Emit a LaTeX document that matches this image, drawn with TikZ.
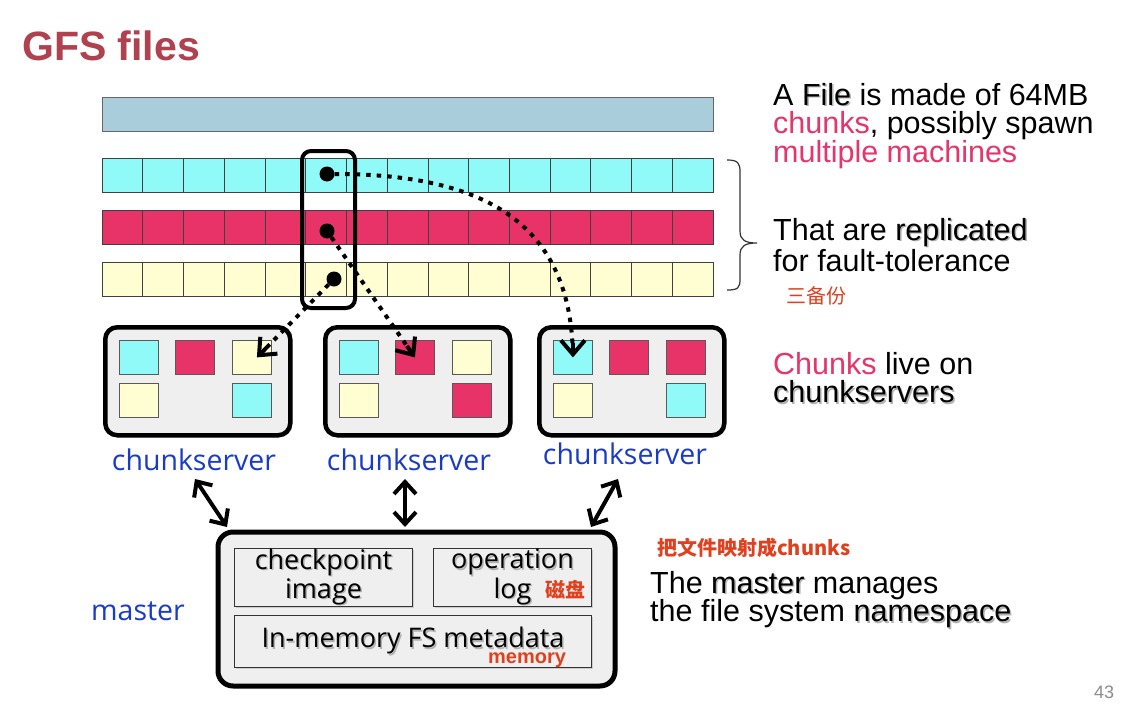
\documentclass[tikz,border=0pt]{standalone}
\usepackage{fontspec}
\setmainfont{Liberation Sans}
\newfontfamily\labelfont{Open Sans}
\newfontfamily\cjk{Noto Sans CJK SC}
\usetikzlibrary{arrows.meta,shadows,calc}

\definecolor{titlered}{RGB}{176,66,80}
\definecolor{chunkcyan}{RGB}{144,250,248}
\definecolor{chunkred}{RGB}{232,51,104}
\definecolor{chunkyellow}{RGB}{255,253,210}
\definecolor{filebar}{RGB}{169,205,219}
\definecolor{boxgray}{RGB}{239,239,239}
\definecolor{srvblue}{RGB}{26,59,200}
\definecolor{notered}{RGB}{224,64,30}
\definecolor{pinktext}{RGB}{229,53,107}

\newcommand{\shadowtxt}[1]{\makebox[0pt][l]{\hspace{1.5pt}\raisebox{-1.5pt}{\textcolor{black!30}{#1}}}#1}

\begin{document}
\begin{tikzpicture}[x=1pt,y=-1pt,
	cell/.style={draw=black!75, line width=0.7pt, minimum width=40.73pt, minimum height=34pt, inner sep=0pt, outer sep=0pt, anchor=north west},
	sq/.style={draw=black!65, line width=0.8pt, minimum width=39pt, minimum height=34pt, inner sep=0pt, anchor=north west},
	server/.style={draw=black, line width=4.5pt, rounded corners=12pt, fill=boxgray, minimum width=185pt, minimum height=108pt, inner sep=0pt, anchor=north west, drop shadow={shadow xshift=2pt, shadow yshift=-2pt, opacity=0.35}},
	inbox/.style={draw=black!80, line width=1pt, fill=boxgray, inner sep=0pt, anchor=north west, align=center, font=\labelfont\fontsize{27}{24}\selectfont, drop shadow={shadow xshift=1pt, shadow yshift=-1pt, opacity=0.3}},
	srvlabel/.style={font=\labelfont\fontsize{28.5}{30}\selectfont, text=srvblue},
	note/.style={font=\fontsize{30.5}{28.5}\selectfont, align=left, inner sep=0pt, anchor=north west},
	cjknote/.style={font=\cjk\bfseries\fontsize{20}{22}\selectfont, text=notered, inner sep=0pt},
	dot/.style={circle, fill, inner sep=0pt, minimum size=15pt},
	dotline/.style={line width=4pt, dash pattern=on 4.5pt off 6pt},
	tipline/.style={line width=4pt, solid, -{Straight Barb[length=14pt,width=24pt]}},
	dblarrow/.style={line width=4pt, {Straight Barb[length=12pt,width=22pt]}-{Straight Barb[length=12pt,width=22pt]}}]

	\fill[white] (0,0) rectangle (1148,704);

	\node[font=\fontsize{41}{48}\selectfont\bfseries, text=titlered, anchor=base west, inner sep=0pt] (title) at (22,60) {GFS files};

	\node[draw=black!60, line width=0.8pt, fill=filebar, minimum width=611pt, minimum height=34pt, inner sep=0pt, anchor=north west] (file) at (102,97) {};
	\foreach \i in {1,...,15} {
		\node[cell, fill=chunkcyan] (c\i) at ({102+(\i-1)*40.733},158) {};
		\node[cell, fill=chunkred] (r\i) at ({102+(\i-1)*40.733},210) {};
		\node[cell, fill=chunkyellow] (y\i) at ({102+(\i-1)*40.733},262) {};
	}
	\node[draw, line width=4pt, rounded corners=9pt, minimum width=53pt, minimum height=157pt, inner sep=0pt, anchor=north west] (col) at (300,149) {};
	\node[dot] (d1) at (327,174) {};
	\node[dot] (d2) at (327,231) {};
	\node[dot] (d3) at (334,279) {};

	\draw[line width=1.2pt, black!80] (727,160) .. controls (738,160) and (740,163) .. (740,172) -- (740,231) .. controls (740,240) and (745,243) .. (757,243) .. controls (745,243) and (740,246) .. (740,255) -- (740,279) .. controls (740,288) and (738,290) .. (727,290);

	\node[server] (srv1) at (103,325) {};
	\node[server] (srv2) at (323,325) {};
	\node[server] (srv3) at (537,325) {};
	\foreach \x/\y/\col/\nm in {119/340/chunkcyan/s1c, 175/340/chunkred/s1r, 232/340/chunkyellow/s1y, 119/383/chunkyellow/s1y2, 232/383/chunkcyan/s1c2,
		339/340/chunkcyan/s2c, 395/340/chunkred/s2r, 452/340/chunkyellow/s2y, 339/383/chunkyellow/s2y2, 452/383/chunkred/s2r2,
		553/340/chunkcyan/s3c, 609/340/chunkred/s3r, 666/340/chunkred/s3r2, 553/383/chunkyellow/s3y, 666/383/chunkcyan/s3c2} {
		\node[sq, fill=\col] (\nm) at (\x,\y) {};
	}
	\node[srvlabel] (l1) at (194,460) {chunkserver};
	\node[srvlabel] (l2) at (409,460) {chunkserver};
	\node[srvlabel] (l3) at (625,454) {chunkserver};

	\coordinate (t1) at ([xshift=5pt]s1y.center);
	\draw[dotline] (d1) .. controls (480,174) and (572,220) .. (s3c.center);
	\draw[tipline] ([yshift=14pt]s3c.center) -- (s3c.center);
	\draw[dotline] (d2) -- (s2r.center);
	\draw[tipline] ($(s2r.center)!14pt!(d2)$) -- (s2r.center);
	\draw[dotline] (d3) -- (t1);
	\draw[tipline] ($(t1)!14pt!(d3)$) -- (t1);

	\node[server, line width=5pt, rounded corners=15pt, minimum width=397pt, minimum height=154pt] (master) at (215.5,529.5) {};
	\node[inbox, minimum width=178pt, minimum height=58pt] (ckpt) at (234,548) {\shadowtxt{checkpoint}\\\shadowtxt{image}};
	\node[inbox, minimum width=158pt, minimum height=58pt] (oplog) at (433,548) {\shadowtxt{operation}\\\shadowtxt{log}};
	\node[inbox, minimum width=357pt, minimum height=52pt] (meta) at (234,615) {\shadowtxt{In-memory FS metadata}};
	\node[cjknote] (disk) at (565,590) {磁盘};
	\node[font=\bfseries\fontsize{20}{22}\selectfont, text=notered, inner sep=0pt] (mem) at (527,660) {memory};
	\node[srvlabel] (mlabel) at (138,611) {master};

	\coordinate (m1) at (227,527);
	\coordinate (m2) at (405,527);
	\coordinate (m3) at (591,527);
	\draw[dblarrow] ([xshift=1pt,yshift=-4.5pt]l1.south) -- (m1);
	\draw[dblarrow] ([xshift=-4pt,yshift=-4.5pt]l2.south) -- (m2);
	\draw[dblarrow] ([xshift=-7pt,yshift=-10.5pt]l3.south) -- (m3);

	\node[note] (n1) at (773,83) {A \shadowtxt{File} is made of 64MB\\\textcolor{pinktext}{chunks}, possibly spawn\\\textcolor{pinktext}{multiple machines}};
	\node[note] (n2) at (773,218) {That are \shadowtxt{replicated}\\for fault-tolerance};
	\node[cjknote, font=\cjk\fontsize{20}{22}\selectfont] (n2cn) at (816,296) {三备份};
	\node[note] (n3) at (773,352) {\textcolor{pinktext}{Chunks} live on\\\shadowtxt{chunkservers}};
	\node[cjknote, anchor=west] (n4cn) at (657,548) {把文件映射成chunks};
	\node[note] (n4) at (650,571) {The \shadowtxt{master} manages\\the file system \shadowtxt{namespace}};

	\node[text=black!45, font=\fontsize{18}{20}\selectfont, inner sep=0pt] (page) at (1104,692) {43};
\end{tikzpicture}
\end{document}
